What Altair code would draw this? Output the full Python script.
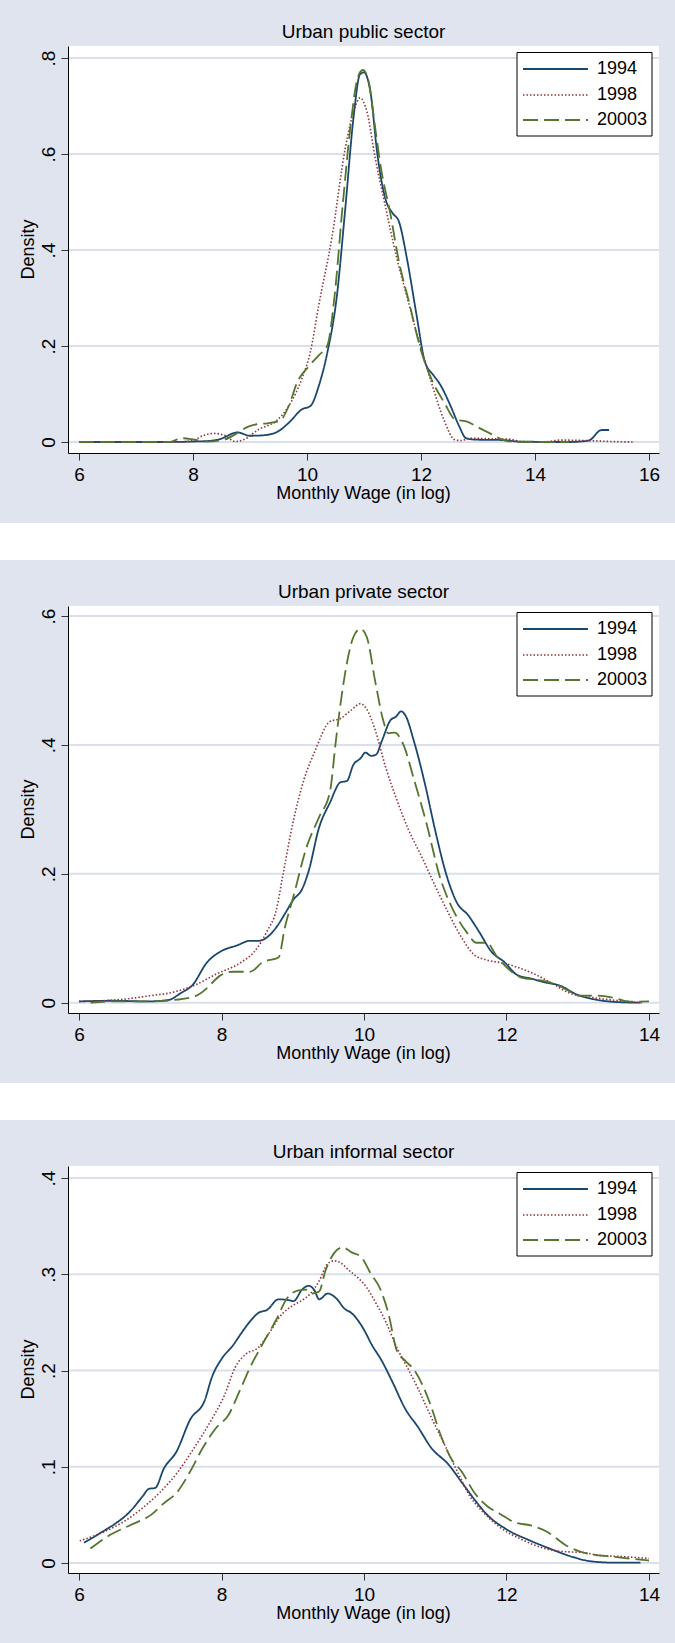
import altair as alt
import pandas as pd

FONT = "Liberation Sans"
BG = "#dfe4ef"
GRID = "#d9e0ec"
SERIES = ["1994", "1998", "20003"]
COLORS = {"1994": "#1a476f", "1998": "#90353b", "20003": "#55752f"}
DASH = {"1994": [1, 0], "1998": [1.5, 2], "20003": [15, 6]}
WIDTHS = {"1994": 1.8, "1998": 1.6, "20003": 1.8}
W, H = 591, 407

# ---------------- Urban public sector ----------------
pub_x_1994 = [6.0, 7.5, 8.0, 8.25, 8.47, 8.78, 9.0, 9.23, 9.46, 9.68, 9.91, 10.06, 10.21, 10.36, 10.52,
              10.67, 10.82, 10.93, 11.0, 11.12, 11.23, 11.38, 11.5, 11.61, 11.76, 11.92, 12.07, 12.22,
              12.33, 12.52, 12.67, 12.79, 12.94, 13.47, 13.7, 14.6, 14.94, 15.17, 15.3]
pub_y_1994 = [0, 0, 0.001, 0.002, 0.006, 0.02, 0.013, 0.014, 0.02, 0.04, 0.068, 0.075, 0.118, 0.188, 0.30,
              0.484, 0.68, 0.766, 0.77, 0.724, 0.604, 0.505, 0.477, 0.46, 0.378, 0.266, 0.167, 0.139,
              0.121, 0.075, 0.033, 0.008, 0.005, 0.004, 0.001, 0, 0.003, 0.025, 0.025]
pub_x_1998 = [6.0, 7.8, 8.02, 8.17, 8.36, 8.55, 8.74, 8.89, 9.15, 9.46, 9.68, 9.91, 10.06, 10.21, 10.44,
              10.67, 10.82, 10.93, 11.05, 11.2, 11.35, 11.57, 11.76, 11.95, 12.18, 12.4, 12.59, 12.71,
              12.86, 13.16, 13.54, 13.77, 14.15, 14.45, 14.9, 15.36, 15.75]
pub_y_1998 = [0, 0, 0.004, 0.013, 0.018, 0.014, 0.001, 0.005, 0.026, 0.044, 0.075, 0.132, 0.188, 0.287, 0.428,
              0.611, 0.689, 0.717, 0.689, 0.59, 0.505, 0.386, 0.30, 0.216, 0.125, 0.047, 0.005, 0.003,
              0.008, 0.007, 0.006, 0.001, 0, 0.004, 0.003, 0.001, 0]
pub_x_2003 = [6.0, 7.6, 7.79, 8.02, 8.25, 8.55, 8.78, 8.97, 9.12, 9.31, 9.53, 9.68, 9.83, 10.02, 10.21,
              10.36, 10.48, 10.63, 10.78, 10.89, 10.98, 11.08, 11.19, 11.3, 11.46, 11.61, 11.8, 11.99,
              12.18, 12.41, 12.6, 12.82, 13.01, 13.24, 13.47, 13.7, 14.6]
pub_y_2003 = [0, 0, 0.008, 0.005, 0.001, 0.005, 0.019, 0.032, 0.037, 0.039, 0.045, 0.075, 0.125, 0.156, 0.181,
              0.202, 0.30, 0.498, 0.675, 0.759, 0.775, 0.752, 0.66, 0.569, 0.477, 0.378, 0.287, 0.195,
              0.132, 0.082, 0.047, 0.042, 0.030, 0.016, 0.003, 0, 0]

# ---------------- Urban private sector ----------------
pri_x_1994 = [6.0, 6.47, 6.95, 7.25, 7.43, 7.59, 7.8, 7.98, 8.22, 8.4, 8.52, 8.77, 8.89, 9.01, 9.13, 9.22,
              9.37, 9.52, 9.67, 9.76, 9.85, 9.95, 10.02, 10.1, 10.17, 10.25, 10.37, 10.45, 10.52, 10.58,
              10.7, 10.85, 11.0, 11.16, 11.31, 11.46, 11.61, 11.79, 11.97, 12.15, 12.34, 12.52, 12.76,
              13.0, 13.24, 13.55, 13.88]
pri_y_1994 = [0.002, 0.003, 0.002, 0.004, 0.015, 0.027, 0.063, 0.079, 0.089, 0.096, 0.096, 0.117, 0.138, 0.16,
              0.176, 0.203, 0.272, 0.31, 0.342, 0.344, 0.369, 0.379, 0.388, 0.383, 0.385, 0.406, 0.438,
              0.444, 0.452, 0.446, 0.406, 0.342, 0.267, 0.197, 0.154, 0.136, 0.111, 0.079, 0.063, 0.043,
              0.0375, 0.032, 0.026, 0.012, 0.005, 0.001, 0]
pri_x_1998 = [6.0, 6.59, 7.01, 7.31, 7.62, 7.92, 8.28, 8.46, 8.64, 8.77, 8.86, 9.01, 9.16, 9.31, 9.52, 9.67,
              9.82, 9.95, 10.04, 10.16, 10.31, 10.46, 10.61, 10.82, 11.0, 11.19, 11.37, 11.55, 11.73,
              11.97, 12.15, 12.4, 12.64, 12.88, 13.12, 13.42, 13.73, 13.9]
pri_y_1998 = [0.002, 0.005, 0.011, 0.016, 0.027, 0.044, 0.063, 0.079, 0.111, 0.144, 0.197, 0.283, 0.347, 0.39,
              0.436, 0.441, 0.454, 0.464, 0.455, 0.422, 0.363, 0.315, 0.272, 0.224, 0.181, 0.138, 0.101,
              0.074, 0.066, 0.061, 0.055, 0.044, 0.03, 0.015, 0.0096, 0.005, 0.0016, 0]
pri_x_2003 = [6.16, 6.47, 6.95, 7.31, 7.65, 7.8, 7.98, 8.16, 8.4, 8.58, 8.8, 8.89, 9.01, 9.19, 9.37, 9.52,
              9.61, 9.73, 9.85, 9.95, 10.04, 10.16, 10.27, 10.34, 10.43, 10.55, 10.7, 10.88, 11.06, 11.25,
              11.43, 11.58, 11.73, 11.85, 12.03, 12.21, 12.46, 12.7, 12.88, 13.0, 13.24, 13.49, 13.73, 14.0]
pri_y_2003 = [0, 0.002, 0.002, 0.004, 0.011, 0.023, 0.042, 0.048, 0.048, 0.063, 0.07, 0.117, 0.165, 0.24,
              0.288, 0.326, 0.411, 0.508, 0.567, 0.58, 0.567, 0.497, 0.438, 0.418, 0.419, 0.401, 0.347,
              0.277, 0.197, 0.144, 0.111, 0.093, 0.093, 0.074, 0.052, 0.039, 0.035, 0.028, 0.018, 0.011,
              0.011, 0.008, 0.0016, 0.002]

# ---------------- Urban informal sector ----------------
inf_x_1994 = [6.07, 6.34, 6.53, 6.71, 6.89, 6.98, 7.07, 7.19, 7.37, 7.56, 7.77, 7.86, 8.01, 8.16, 8.28, 8.4,
              8.52, 8.64, 8.8, 8.95, 9.01, 9.13, 9.22, 9.3, 9.37, 9.49, 9.61, 9.73, 9.82, 10.01, 10.1,
              10.25, 10.4, 10.58, 10.76, 10.94, 11.19, 11.37, 11.55, 11.73, 12.0, 12.34, 12.64, 12.94,
              13.18, 13.49, 13.88]
inf_y_1994 = [0.021, 0.033, 0.042, 0.053, 0.069, 0.077, 0.078, 0.098, 0.116, 0.149, 0.17, 0.192, 0.213, 0.226,
              0.239, 0.251, 0.26, 0.263, 0.274, 0.273, 0.272, 0.284, 0.288, 0.284, 0.274, 0.28, 0.275,
              0.264, 0.26, 0.241, 0.228, 0.21, 0.188, 0.16, 0.141, 0.12, 0.102, 0.084, 0.066, 0.05,
              0.035, 0.023, 0.014, 0.006, 0.0018, 0.0004, 0.0004]
inf_x_1998 = [6.01, 6.34, 6.65, 6.89, 7.13, 7.37, 7.62, 7.86, 8.04, 8.19, 8.34, 8.52, 8.67, 8.83, 9.01, 9.13,
              9.25, 9.37, 9.49, 9.58, 9.67, 9.79, 9.92, 10.04, 10.16, 10.31, 10.46, 10.61, 10.76, 10.94,
              11.13, 11.31, 11.49, 11.67, 11.91, 12.21, 12.52, 12.76, 13.06, 13.3, 13.67, 14.0]
inf_y_1998 = [0.023, 0.032, 0.044, 0.057, 0.073, 0.093, 0.12, 0.149, 0.174, 0.203, 0.217, 0.224, 0.239, 0.257,
              0.268, 0.273, 0.28, 0.293, 0.311, 0.314, 0.312, 0.304, 0.296, 0.286, 0.271, 0.25, 0.224,
              0.203, 0.181, 0.152, 0.123, 0.095, 0.069, 0.053, 0.037, 0.0245, 0.0155, 0.012, 0.011,
              0.008, 0.0065, 0.0047]
inf_x_2003 = [6.16, 6.41, 6.71, 7.01, 7.19, 7.37, 7.56, 7.74, 7.92, 8.1, 8.25, 8.4, 8.58, 8.77, 8.92, 9.07,
              9.19, 9.28, 9.37, 9.46, 9.58, 9.7, 9.82, 9.96, 10.1, 10.22, 10.34, 10.46, 10.58, 10.7,
              10.82, 10.94, 11.07, 11.22, 11.37, 11.55, 11.73, 11.91, 12.12, 12.34, 12.58, 12.82, 13.12,
              13.49, 14.0]
inf_y_2003 = [0.015, 0.028, 0.039, 0.05, 0.062, 0.073, 0.095, 0.12, 0.14, 0.154, 0.178, 0.203, 0.228, 0.253,
              0.275, 0.283, 0.284, 0.28, 0.282, 0.304, 0.322, 0.328, 0.323, 0.318, 0.3, 0.286, 0.26,
              0.221, 0.21, 0.201, 0.185, 0.163, 0.134, 0.109, 0.095, 0.073, 0.059, 0.051, 0.042, 0.039,
              0.032, 0.019, 0.01, 0.0065, 0.0025]

titles = ["Urban public sector", "Urban private sector", "Urban informal sector"]
x_ticks_pub = [6, 8, 10, 12, 14, 16]
x_ticks_other = [6, 8, 10, 12, 14]
y_ticks_pub = [0, 0.2, 0.4, 0.6, 0.8]
y_ticks_pri = [0, 0.2, 0.4, 0.6]
y_ticks_inf = [0, 0.1, 0.2, 0.3, 0.4]

ONE = pd.DataFrame({"a": [0]})


def panel(title, series, xdom, ydom, xticks, yticks):
    rows = []
    for name, (xs, ys) in zip(SERIES, series):
        for xv, yv in zip(xs, ys):
            rows.append({"series": name, "x": xv, "y": yv})
    df = pd.DataFrame(rows)
    xscale = alt.Scale(domain=xdom, nice=False, zero=False)
    yscale = alt.Scale(domain=ydom, nice=False, zero=False)

    xaxis = alt.Axis(values=xticks, title=None, grid=False, domainColor="black", domainWidth=1,
                     tickColor="#333333", tickSize=7, tickWidth=1, labelFont=FONT, labelFontSize=19,
                     labelColor="black", labelPadding=5, labelFlush=False, zindex=1)
    yaxis = alt.Axis(values=yticks, title=None, grid=False, domainColor="black", domainWidth=1,
                     tickColor="#333333", tickSize=7, tickWidth=1, labelFont=FONT, labelFontSize=19,
                     labelColor="black", labelPadding=3, labelAngle=270, zindex=1,
                     labelExpr="datum.value == 0 ? '0' : replace(format(datum.value, '.1f'), '0.', '.')")

    bg = alt.Chart(ONE).mark_rect(color=BG).encode(
        x=alt.value(-68), x2=alt.value(W + 16), y=alt.value(-46), y2=alt.value(477))
    plotbg = alt.Chart(ONE).mark_rect(color="white").encode(
        x=alt.value(0), x2=alt.value(W), y=alt.value(0), y2=alt.value(H))
    grid = alt.Chart(pd.DataFrame({"y": yticks})).mark_rule(color=GRID, strokeWidth=2).encode(
        y=alt.Y("y:Q", scale=yscale, axis=yaxis), x=alt.value(0), x2=alt.value(W))

    lines = []
    for name in SERIES:
        lines.append(
            alt.Chart(df).transform_filter(alt.datum.series == name).mark_line(
                color=COLORS[name], strokeDash=DASH[name], strokeWidth=WIDTHS[name],
                interpolate="monotone", strokeCap="butt").encode(
                x=alt.X("x:Q", scale=xscale, axis=xaxis),
                y=alt.Y("y:Q", scale=yscale, axis=yaxis)))

    legbox = alt.Chart(ONE).mark_rect(fill="white", stroke="black", strokeWidth=1).encode(
        x=alt.value(449), x2=alt.value(584), y=alt.value(6.5), y2=alt.value(90))
    leg = []
    for name, ly in zip(SERIES, [23, 49, 74]):
        leg.append(alt.Chart(ONE).mark_rule(color=COLORS[name], strokeDash=DASH[name],
                                            strokeWidth=WIDTHS[name], strokeCap="butt").encode(
            x=alt.value(455), x2=alt.value(520), y=alt.value(ly)))
        leg.append(alt.Chart(ONE).mark_text(text=name, font=FONT, fontSize=18, align="left",
                                            baseline="middle", color="black").encode(
            x=alt.value(529), y=alt.value(ly)))

    ttl = alt.Chart(ONE).mark_text(text=title, font=FONT, fontSize=19, align="center",
                                   baseline="middle", color="black").encode(
        x=alt.value(W / 2), y=alt.value(-14))
    xt = alt.Chart(ONE).mark_text(text="Monthly Wage (in log)", font=FONT, fontSize=18, align="center",
                                  baseline="middle", color="black").encode(
        x=alt.value(W / 2), y=alt.value(H + 41))
    yt = alt.Chart(ONE).mark_text(text="Density", font=FONT, fontSize=18, align="center",
                                  baseline="middle", angle=270, color="black").encode(
        x=alt.value(-39), y=alt.value(H / 2))

    return alt.layer(bg, plotbg, grid, *lines, legbox, *leg, ttl, xt, yt).properties(width=W, height=H)


p1 = panel(titles[0], [(pub_x_1994, pub_y_1994), (pub_x_1998, pub_y_1998), (pub_x_2003, pub_y_2003)],
           [5.807, 16.176], [-0.0229, 0.825], x_ticks_pub, y_ticks_pub)
p2 = panel(titles[1], [(pri_x_1994, pri_y_1994), (pri_x_1998, pri_y_1998), (pri_x_2003, pri_y_2003)],
           [5.8455, 14.1404], [-0.016, 0.6155], x_ticks_other, y_ticks_pri)
p3 = panel(titles[2], [(inf_x_1994, inf_y_1994), (inf_x_1998, inf_y_1998), (inf_x_2003, inf_y_2003)],
           [5.8455, 14.1404], [-0.0104, 0.4125], x_ticks_other, y_ticks_inf)

chart = alt.vconcat(p1, p2, p3, spacing=153, bounds="flush").properties(
    padding=0, background="white").configure_view(stroke=None)

chart.save("out.html", embed_options={"renderer": "svg", "actions": False})
